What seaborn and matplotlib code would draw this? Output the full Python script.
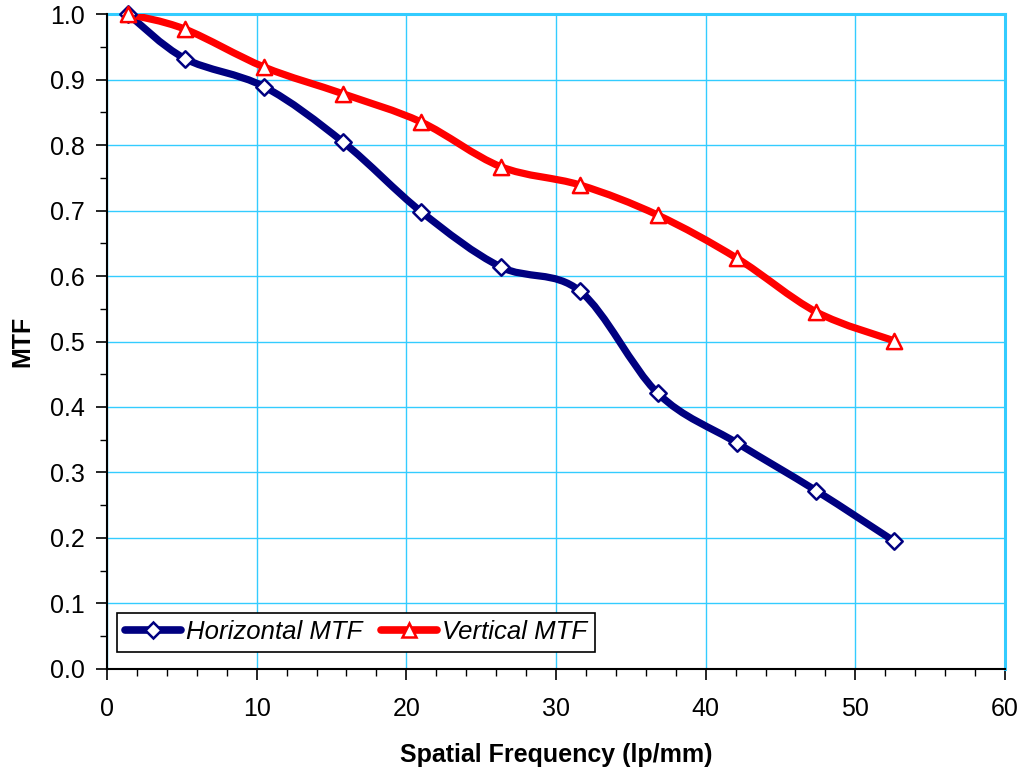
import numpy as np
import pandas as pd
import matplotlib
matplotlib.use("Agg")
import matplotlib.pyplot as plt
import seaborn as sns
from matplotlib.path import Path
from matplotlib.patches import PathPatch
from matplotlib.lines import Line2D
from matplotlib.ticker import MultipleLocator

# ---- data ----
freq = [1.4, 5.2, 10.5, 15.8, 21.0, 26.3, 31.6, 36.8, 42.1, 47.4, 52.6]
mtf_h = [1.0, 0.932, 0.889, 0.804, 0.698, 0.614, 0.577, 0.421, 0.345, 0.272, 0.195]
mtf_v = [1.0, 0.977, 0.919, 0.878, 0.835, 0.767, 0.739, 0.693, 0.627, 0.545, 0.501]
series_names = ["Horizontal MTF", "Vertical MTF"]

NAVY = "#000080"
RED = "#FF0000"
GRID = "#33CCFF"

sns.set_theme(style="white")
plt.rcParams["font.family"] = ["Liberation Sans", "DejaVu Sans"]
plt.rcParams["text.color"] = "black"
plt.rcParams["axes.labelcolor"] = "black"
plt.rcParams["xtick.color"] = "black"
plt.rcParams["ytick.color"] = "black"

fig = plt.figure(figsize=(10.26, 7.75), dpi=100)
ax = fig.add_axes([0.1043, 0.1368, 0.9795 - 0.1043, 0.9819 - 0.1368])


def smooth_path(xs, ys):
    pts = np.column_stack([xs, ys]).astype(float)
    n = len(pts)
    verts = [pts[0]]
    codes = [Path.MOVETO]
    for i in range(n - 1):
        p0 = pts[i - 1] if i > 0 else pts[i]
        p1 = pts[i]
        p2 = pts[i + 1]
        p3 = pts[i + 2] if i + 2 < n else pts[i + 1]
        c1 = p1 + (p2 - p0) / 6.0
        c2 = p2 - (p3 - p1) / 6.0
        verts += [c1, c2, p2]
        codes += [Path.CURVE4] * 3
    return Path(verts, codes)


df = pd.DataFrame({"freq": freq + freq,
                   "mtf": mtf_h + mtf_v,
                   "series": [series_names[0]] * len(freq) + [series_names[1]] * len(freq)})

styles = {
    series_names[0]: dict(color=NAVY, marker="D", s=70),
    series_names[1]: dict(color=RED, marker="^", s=120),
}

for name in series_names:
    sub = df[df["series"] == name]
    st = styles[name]
    patch = PathPatch(smooth_path(sub["freq"].values, sub["mtf"].values),
                      facecolor="none", edgecolor=st["color"], lw=5.2,
                      capstyle="round", joinstyle="round", zorder=3)
    ax.add_patch(patch)
    sns.scatterplot(data=sub, x="freq", y="mtf", marker=st["marker"], s=st["s"],
                    color="white", edgecolor=st["color"], linewidth=1.8,
                    zorder=4, ax=ax, legend=False, clip_on=False)

ax.set_xlim(0, 60)
ax.set_ylim(0, 1.0)
ax.xaxis.set_major_locator(MultipleLocator(10))
ax.xaxis.set_minor_locator(MultipleLocator(2))
ax.yaxis.set_major_locator(MultipleLocator(0.1))
ax.yaxis.set_minor_locator(MultipleLocator(0.05))
ax.yaxis.set_major_formatter(matplotlib.ticker.FormatStrFormatter("%.1f"))

ax.grid(True, which="major", color=GRID, lw=1.0, zorder=0)
ax.set_axisbelow(True)

for side in ["top", "right"]:
    ax.spines[side].set_color(GRID)
    ax.spines[side].set_linewidth(2.2)
for side in ["left", "bottom"]:
    ax.spines[side].set_color("black")
    ax.spines[side].set_linewidth(1.5)
    ax.spines[side].set_zorder(5)

ax.tick_params(axis="x", which="major", pad=12)
ax.tick_params(axis="y", which="major", pad=8)
ax.tick_params(axis="both", which="major", direction="out", length=8, width=1.2,
               color="black", labelcolor="black", labelsize=18, bottom=True, left=True)
ax.tick_params(axis="both", which="minor", direction="out", length=5, width=1.0,
               color="black", bottom=True, left=True)

ax.set_xlabel("Spatial Frequency (lp/mm)", fontsize=18, fontweight="bold",
              labelpad=16, color="black")
ax.set_ylabel("MTF", fontsize=18, fontweight="bold", labelpad=11, color="black")

handles = [
    Line2D([], [], color=NAVY, lw=5.5, marker="D", markersize=8, markerfacecolor="white",
           markeredgecolor=NAVY, markeredgewidth=1.8, solid_capstyle="round"),
    Line2D([], [], color=RED, lw=5.5, marker="^", markersize=10, markerfacecolor="white",
           markeredgecolor=RED, markeredgewidth=1.8, solid_capstyle="round"),
]
leg = ax.legend(handles, series_names, loc="lower left", bbox_to_anchor=(0.011, 0.026),
                ncol=2, frameon=True, fancybox=False, edgecolor="black", framealpha=1,
                prop={"style": "italic", "size": 18.5}, handlelength=2.2,
                columnspacing=0.7, handletextpad=0.2, borderpad=0.3, borderaxespad=0)
leg.get_frame().set_linewidth(1.2)
for t in leg.get_texts():
    t.set_color("black")

fig.savefig("out.png", dpi=100)
